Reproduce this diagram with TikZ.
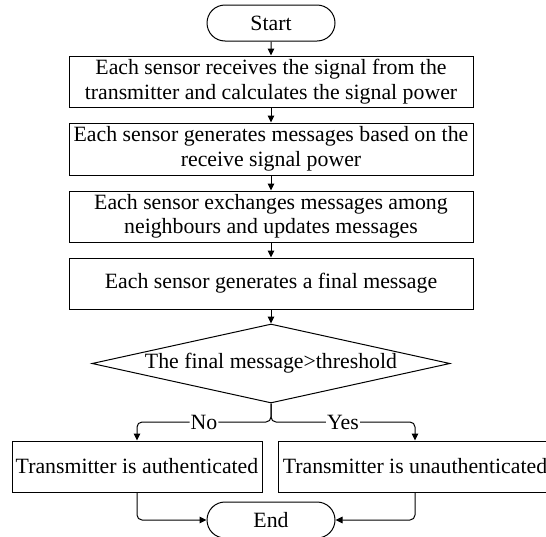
\documentclass[tikz,border=0pt]{standalone}
\usepackage{fontspec}
\setmainfont{Liberation Serif}
\usetikzlibrary{shapes.misc,shapes.geometric,arrows.meta}
\begin{document}
\begin{tikzpicture}[x=1pt,y=-1pt,
  every node/.style={font=\fontsize{21.8}{24.5}\selectfont, inner sep=0pt},
  term/.style={rounded rectangle, draw, line width=1pt, minimum width=128pt, minimum height=36pt},
  proc/.style={rectangle, draw, line width=1pt, align=center, minimum height=51pt},
  dec/.style={diamond, draw, line width=1pt, minimum width=358pt, minimum height=79pt},
  conn/.style={line width=1pt, -{Triangle[length=7pt,width=6.5pt]}},
  lbl/.style={fill=white, inner sep=1pt}]
\useasboundingbox (0,0) rectangle (546,536);
\node[term] (start) at (271,23) {Start};
\node[proc, minimum width=404pt, minimum height=51pt] (b1) at (271,81.5) {Each sensor receives the signal from the\\transmitter and calculates the signal power};
\node[proc, minimum width=404pt, minimum height=52pt] (b2) at (271,149) {Each sensor generates messages based on the\\receive signal power};
\node[proc, minimum width=404pt] (b3) at (271,216.5) {Each sensor exchanges messages among\\neighbours and updates messages};
\node[proc, minimum width=404pt] (b4) at (271,283.5) {Each sensor generates a final message};
\node[dec] (d) at (271,363.5) {};
\node (dt) at (d.center) {The final message>threshold};
\node[proc, minimum width=250pt] (l) at (137,466.5) {Transmitter is authenticated};
\node[proc, minimum width=274pt] (r) at (415,466.5) {Transmitter is unauthenticated};
\node[term] (end) at (271,520) {End};
\coordinate (br) at (271,422);
\draw[conn] (start) -- (b1);
\draw[conn] (b1) -- (b2);
\draw[conn] (b2) -- (b3);
\draw[conn] (b3) -- (b4);
\draw[conn] (b4) -- (d);
\draw[conn, rounded corners=5pt] (d.south) -- (br) -| node[lbl, pos=0.25] {No} (l.north);
\draw[conn, rounded corners=5pt] (d.south) -- (br) -| node[lbl, pos=0.25] {Yes} (r.north);
\draw[conn, rounded corners=5pt] (l.south) |- (end.west);
\draw[conn, rounded corners=5pt] (r.south) |- (end.east);
\end{tikzpicture}
\end{document}
